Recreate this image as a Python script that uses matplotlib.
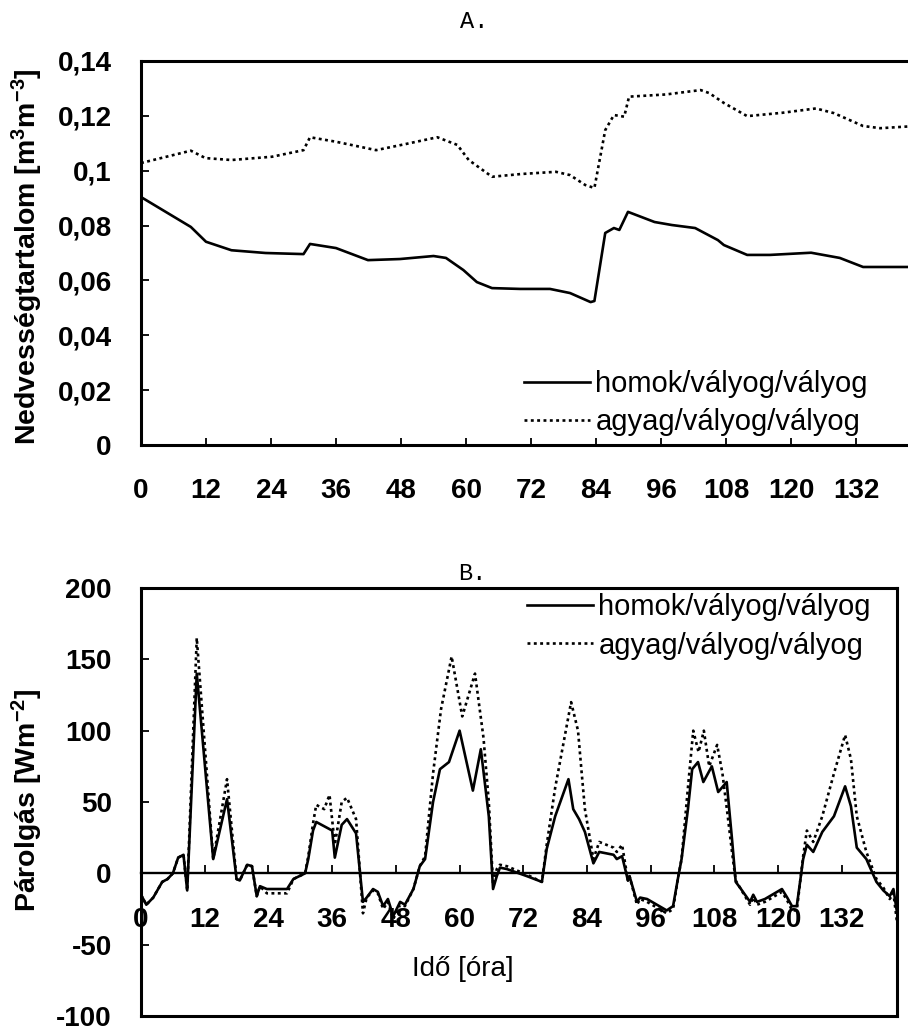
import matplotlib
matplotlib.use("Agg")
import matplotlib.pyplot as plt
from matplotlib import font_manager as fm

# ---------------- data ----------------
# Panel A: soil moisture [m3 m-3] vs time [h]
a_t_homok = [0, 9.2, 12, 16.7, 23, 30, 31.2, 36, 41.9, 47.8, 54, 56.3, 59.5, 62,
             64.8, 70, 75.5, 79.2, 83, 83.7, 85.7, 87.3, 88.3, 89.9, 94.8, 98,
             102.3, 106.5, 107.6, 111.9, 116.1, 123.7, 129, 133.3, 137.5, 143]
a_homok = [0.0904, 0.0795, 0.0741, 0.0710, 0.0700, 0.0696, 0.0733, 0.0718, 0.0674,
           0.0678, 0.0689, 0.0682, 0.0638, 0.0594, 0.0572, 0.0569, 0.0569, 0.0554,
           0.0521, 0.0525, 0.0773, 0.0791, 0.0784, 0.0850, 0.0813, 0.0802, 0.0791,
           0.0747, 0.0729, 0.0693, 0.0693, 0.0701, 0.0682, 0.0649, 0.0649, 0.0649]
a_t_agyag = [0, 9.2, 11.9, 16.7, 24.2, 30, 31.2, 35.9, 43.4, 48.8, 54.7, 58.4, 60.5,
             64.8, 70.2, 76.6, 79.2, 82, 83.7, 85.7, 87.3, 89.2, 90.1, 96.9, 103.3,
             104.9, 107.6, 111.9, 118.3, 124.6, 127.9, 133.3, 136.5, 143]
a_agyag = [0.1028, 0.1073, 0.1046, 0.1039, 0.1051, 0.1075, 0.1122, 0.1106, 0.1075,
           0.1097, 0.1122, 0.1094, 0.1039, 0.0978, 0.0988, 0.0996, 0.0984, 0.0948,
           0.0937, 0.1148, 0.1203, 0.1197, 0.1270, 0.1278, 0.1294, 0.1283, 0.1247,
           0.1199, 0.1211, 0.1227, 0.1210, 0.1163, 0.1155, 0.1163]

# Panel B: evaporation [W m-2] vs time [h]
b_t_homok = [0, 1, 2.3, 4, 5, 6, 7, 8, 8.7, 10.5, 13.6, 16.2, 18, 18.6, 20, 20.9,
             21.8, 22.4, 23.7, 27.5, 28.7, 30.9, 31.5, 32.4, 33, 34.5, 36, 36.5,
             37.8, 38.8, 40.5, 41.8, 42.5, 43.7, 44.6, 45.6, 46.5, 47.5, 48.8, 49.7,
             51.3, 52.5, 53.5, 55, 56.3, 58, 60, 62.5, 64, 65.5, 66.3, 67, 67.6,
             68.9, 70.8, 72.7, 75.5, 76.4, 78, 80.5, 81.4, 82.5, 83.6, 85.2, 86.3, 89,
             89.6, 90.6, 91.7, 92, 93.4, 94, 95.3, 99, 100.2, 101.1, 101.8, 103,
             103.8, 104.9, 105.9, 107.5, 108.7, 110.3, 111.3, 112, 112.8, 114.7,
             115.3, 116, 117.5, 120.7, 121.7, 122.6, 123.5, 124.7, 125.4, 126.6,
             128.3, 130.5, 132.6, 133.7, 134.8, 136.6, 138.5, 139.8, 141, 141.7, 142.4]
b_homok = [-15, -22, -17, -6, -4, 0, 11, 13, -12, 140, 10, 52, -4, -5, 6, 5,
           -16, -9, -11, -11, -4, 0, 10, 30, 36, 33, 30, 11,
           34, 38, 28, -20, -17, -11, -13, -23, -18, -30, -20, -22,
           -11, 5, 10, 50, 73, 78, 100, 58, 87, 40, -11, -2, 4,
           3, 0.5, -2, -6, 17, 40, 66, 45, 38, 29, 7, 15, 13,
           10, 12, -5, -2, -20, -17, -18, -26, -23, -4, 10, 45,
           73, 78, 64, 75, 57, 64, 24, -6, -10, -20,
           -15, -20, -18, -11, -17, -23, -23, 10, 20, 15,
           29, 40, 61, 47, 18, 10, -6, -12, -16, -11, -28]
b_t_agyag = [0, 1, 2.3, 4, 5, 6, 7, 8, 8.7, 10.5, 13.6, 16.2, 18, 18.6, 20, 20.9,
             21.8, 22.4, 23.7, 27.5, 28.7, 30.9, 31.5, 32.4, 33, 34.5, 35.5, 36.5,
             37.8, 38.8, 40.5, 41.8, 42.5, 43.7, 44.6, 45.6, 46.5, 47.5, 48.8, 49.7,
             51.3, 52.5, 53.5, 55, 56.5, 58.5, 60.5, 62.9, 64.5, 65.5, 66.3, 67, 67.6,
             68.9, 70.8, 72.7, 75.5, 76.4, 78, 80, 81, 82.3, 83, 83.6, 85.2, 86.3, 89,
             89.6, 90.6, 91.7, 92, 93.4, 94, 95.3, 99, 100.2, 101.1, 101.8, 103,
             104, 105, 106, 107, 108.5, 109.5, 110.5, 111.3, 112, 112.8, 114.7,
             115.3, 116, 117.5, 120.7, 121.7, 122.6, 123.5, 124.7, 125.4, 126.6,
             128.3, 130.5, 132.6, 133.7, 134.8, 136.6, 138.5, 139.8, 141, 141.7, 142.4]
b_agyag = [-15, -22, -17, -6, -4, 0, 11, 13, -12, 165, 10, 66, -4, -5, 6, 5,
           -16, -9, -14, -14, -4, 0, 12, 35, 48, 45, 55, 20,
           50, 53, 38, -28, -17, -12, -14, -25, -20, -32, -22, -23,
           -11, 5, 12, 70, 115, 152, 110, 140, 95, 50, -8, 3, 6,
           5, 2, -1, -6, 20, 60, 100, 120, 100, 70, 45, 10, 22, 18,
           15, 20, -5, -2, -22, -18, -20, -28, -25, -4, 10, 60,
           100, 85, 100, 75, 90, 70, 40, 15, -5, -10, -22,
           -17, -22, -20, -13, -19, -26, -26, 12, 30, 22,
           40, 70, 97, 80, 40, 15, -4, -10, -18, -14, -35]

a_yticks = [0, 0.02, 0.04, 0.06, 0.08, 0.10, 0.12, 0.14]
a_yticklabels = ["0", "0,02", "0,04", "0,06", "0,08", "0,1", "0,12", "0,14"]
b_yticks = [-100, -50, 0, 50, 100, 150, 200]
b_yticklabels = ["-100", "-50", "0", "50", "100", "150", "200"]
x_ticks = [0, 12, 24, 36, 48, 60, 72, 84, 96, 108, 120, 132]
x_ticklabels = [str(v) for v in x_ticks]
series_labels = ["homok/vályog/vályog", "agyag/vályog/vályog"]

# ---------------- styling ----------------
names = {f.name for f in fm.fontManager.ttflist}
SANS = "Liberation Sans" if "Liberation Sans" in names else "DejaVu Sans"
if "Liberation Sans Narrow" in names:
    NARROW, NSIZE, LSIZE = "Liberation Sans Narrow", 23, 25
else:
    NARROW, NSIZE, LSIZE = SANS, 20, 21
MONO = "Liberation Mono" if "Liberation Mono" in names else "DejaVu Sans Mono"

plt.rcParams["font.family"] = [SANS, "DejaVu Sans"]
plt.rcParams["mathtext.default"] = "regular"
plt.rcParams["axes.unicode_minus"] = False

W, H = 908, 1031
fig = plt.figure(figsize=(W / 100, H / 100), dpi=100)

def fx(px):
    return px / W

def fy(py):
    return 1 - py / H

LW = 1.9
DOT = (0, (1.1, 1.3))
SPINE = 2.2

# ---------------- Panel A ----------------
axA = fig.add_axes([fx(141), fy(445), fx(915 - 141), (445 - 61) / H])
axA.plot(a_t_homok, a_homok, color="black", lw=LW, label=series_labels[0])
axA.plot(a_t_agyag, a_agyag, color="black", lw=LW, ls=DOT, label=series_labels[1])
axA.set_xlim(0, (915 - 141) / 5.417)
axA.set_ylim(0, 0.14)
axA.set_yticks(a_yticks)
axA.set_yticklabels(a_yticklabels, fontsize=20, fontweight="bold", family=SANS)
axA.set_xticks(x_ticks)
axA.set_xticklabels(x_ticklabels, fontsize=NSIZE, fontweight="bold", family=NARROW)
axA.tick_params(axis="y", direction="in", length=6, width=1.3, pad=21)
axA.tick_params(axis="x", direction="in", length=5, width=1.3, pad=24)
axA.spines["right"].set_visible(False)
for s in ("left", "top", "bottom"):
    axA.spines[s].set_linewidth(SPINE)

fig.text(fx(27), fy(257), "Nedvességtartalom [m$^{3}$m$^{-3}$]", rotation=90,
         ha="center", va="center", fontsize=20.5, fontweight="bold", family=SANS)
fig.text(fx(474), fy(22), "A.", ha="center", va="center", fontsize=17, family=MONO)

legA = axA.legend(loc="upper left", bbox_to_anchor=(fx(524), fy(370)),
                  bbox_transform=fig.transFigure, frameon=False,
                  prop={"family": NARROW, "size": LSIZE},
                  handlelength=2.25, handletextpad=0.2, labelspacing=0.36,
                  borderpad=0, borderaxespad=0)

# ---------------- Panel B ----------------
axB = fig.add_axes([fx(141), fy(1016), fx(897 - 141), (1016 - 588) / H])
axB.plot(b_t_homok, b_homok, color="black", lw=LW, label=series_labels[0])
axB.plot(b_t_agyag, b_agyag, color="black", lw=LW, ls=DOT, label=series_labels[1])
axB.set_xlim(0, (897 - 141) / 5.31)
axB.set_ylim(-100, 200)
axB.set_yticks(b_yticks)
axB.set_yticklabels(b_yticklabels, fontsize=20, fontweight="bold", family=SANS)
axB.tick_params(axis="y", direction="in", length=6, width=1.3, pad=21)
axB.set_xticks([])
for s in ("left", "top", "bottom", "right"):
    axB.spines[s].set_linewidth(SPINE)

try:
    secx = axB.secondary_xaxis(0, transform=axB.transData)
except TypeError:
    secx = axB.secondary_xaxis(1 / 3)
secx.set_xticks(x_ticks)
secx.set_xticklabels(x_ticklabels, fontsize=NSIZE, fontweight="bold", family=NARROW)
secx.tick_params(axis="x", direction="in", length=6, width=1.3, pad=24)
secx.spines["bottom"].set_linewidth(1.7)

axB.text(0.426, 0.11, "Idő [óra]", transform=axB.transAxes, ha="center",
         va="center", fontsize=NSIZE, family=NARROW)
fig.text(fx(27), fy(800), "Párolgás [Wm$^{-2}$]", rotation=90, ha="center",
         va="center", fontsize=20.5, fontweight="bold", family=SANS)
fig.text(fx(472), fy(574), "B.", ha="center", va="center", fontsize=17, family=MONO)

legB = axB.legend(loc="upper left", bbox_to_anchor=(fx(527), fy(593)),
                  bbox_transform=fig.transFigure, frameon=False,
                  prop={"family": NARROW, "size": LSIZE},
                  handlelength=2.25, handletextpad=0.2, labelspacing=0.36,
                  borderpad=0, borderaxespad=0)

fig.savefig("out.png", dpi=100)
